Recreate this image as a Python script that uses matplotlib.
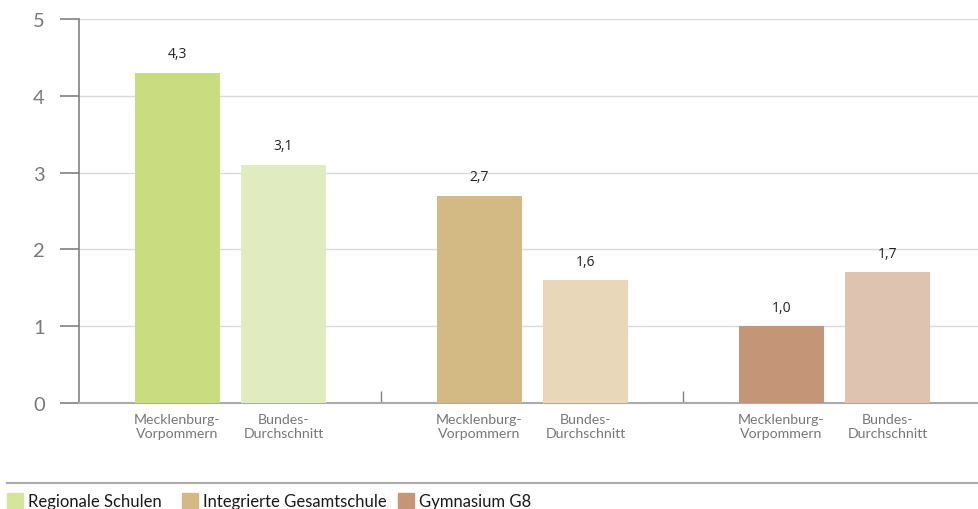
import matplotlib.pyplot as plt
from matplotlib.patches import Rectangle
from matplotlib.lines import Line2D

# Data
schools = ["Regionale Schulen", "Integrierte Gesamtschule", "Gymnasium G8"]
bar_labels = ["Mecklenburg-\nVorpommern", "Bundes-\nDurchschnitt"]
mv_values = [4.3, 2.7, 1.0]
bund_values = [3.1, 1.6, 1.7]
value_labels_mv = ["4,3", "2,7", "1,0"]
value_labels_bund = ["3,1", "1,6", "1,7"]
mv_colors = ["#c9dd80", "#d3b984", "#c49677"]
bund_colors = ["#e0ebbf", "#e8d8b9", "#dfc3b1"]
legend_colors = ["#d5e59d", "#d3b984", "#c49677"]
y_ticks = [0, 1, 2, 3, 4, 5]

W, H = 979, 510
fig = plt.figure(figsize=(W / 100, H / 100), dpi=100)
plt.rcParams['font.family'] = ['Lato', 'DejaVu Sans']

# axes spans groups of width 1; right end goes slightly beyond figure edge
ax_left, ax_right = 79.5, 985.5
ax_top, ax_bottom = 20, 404
ax = fig.add_axes([ax_left / W, (H - ax_bottom) / H,
                   (ax_right - ax_left) / W, (ax_bottom - ax_top) / H])

offset = 53 / 302
width = 85 / 302
for g in range(3):
    c = g + 0.5
    ax.bar(c - offset, mv_values[g], width=width, color=mv_colors[g], zorder=3)
    ax.bar(c + offset, bund_values[g], width=width, color=bund_colors[g], zorder=3)
    ax.text(c - offset, mv_values[g] + 0.15, value_labels_mv[g], ha="center", va="bottom",
            fontsize=10, color="#222222", family=["Open Sans", "DejaVu Sans"])
    ax.text(c + offset, bund_values[g] + 0.15, value_labels_bund[g], ha="center", va="bottom",
            fontsize=10, color="#222222", family=["Open Sans", "DejaVu Sans"])

ax.set_xlim(0, 3)
ax.set_ylim(0, 5)
ax.set_yticks(y_ticks)
ax.set_yticklabels([str(v) for v in y_ticks], fontsize=14.5, color="#7a7a7a")
ax.tick_params(axis="y", direction="out", length=14, width=1.2, color="#808080", pad=11)
ax.grid(axis="y", color="#d9d9d9", linewidth=1, zorder=0)

xt = []
xl = []
for g in range(3):
    xt += [g + 0.5 - offset, g + 0.5 + offset]
    xl += bar_labels
ax.set_xticks(xt)
ax.set_xticklabels(xl, fontsize=10.2, color="#777777", linespacing=1.2)
ax.tick_params(axis="x", length=0, pad=7)
ax.set_xticks([1, 2], minor=True)
ax.tick_params(axis="x", which="minor", direction="in", length=9, width=1, color="#808080")

for s in ["top", "right"]:
    ax.spines[s].set_visible(False)
ax.spines["left"].set_color("#808080")
ax.spines["left"].set_linewidth(1.2)
ax.spines["bottom"].set_color("#aaaaaa")
ax.spines["bottom"].set_linewidth(1.5)

# legend area below the chart
fig.add_artist(Line2D([7 / W, 1], [(H - 483.5) / H] * 2, color="#aaaaaa", linewidth=1.5))
legend_x = [7, 182, 398]
for i, name in enumerate(schools):
    fig.add_artist(Rectangle((legend_x[i] / W, 0), 16 / W, 16 / H,
                             color=legend_colors[i], transform=fig.transFigure))
    fig.text((legend_x[i] + 21) / W, (H - 502) / H, name, fontsize=12,
             color="#1a1a1a", va="center", ha="left")

fig.savefig("out.png", dpi=100)
